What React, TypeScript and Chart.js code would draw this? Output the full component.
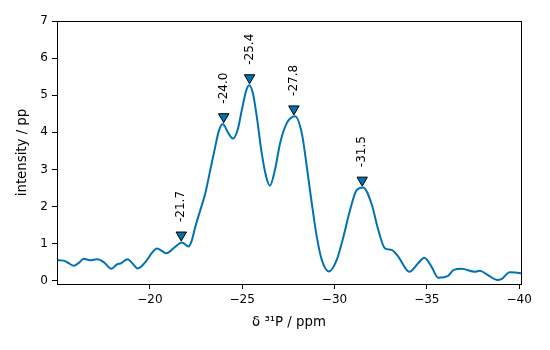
import React, { useEffect, useRef } from "react";
import { Chart, registerables } from "chart.js";

Chart.register(...registerables);

// Spectrum (δ 31P / ppm vs intensity / pp)
const ppm: number[] = [
  -14.97, -15.34, -15.6, -15.88, -16.15, -16.42, -16.75, -17.15, -17.5, -17.92,
  -18.22, -18.44, -18.8, -19.05, -19.34, -19.85, -20.1, -20.39, -20.65, -20.89,
  -21.32, -21.74, -22.1, -22.25, -22.46, -22.73, -23.0, -23.27, -23.54, -23.72,
  -23.94, -24.26, -24.5, -24.75, -24.98, -25.22, -25.38, -25.58, -25.79, -26.06,
  -26.3, -26.5, -26.78, -27.05, -27.41, -27.86, -28.23, -28.5, -28.77, -29.04,
  -29.31, -29.7, -30.12, -30.48, -30.84, -31.2, -31.55, -32.0, -32.37, -32.73,
  -33.09, -33.45, -34.05, -34.53, -34.86, -35.25, -35.61, -36.15, -36.46, -36.88,
  -37.6, -37.86, -38.31, -38.8, -39.04, -39.49, -39.8, -40.1,
];
const intensity: number[] = [
  0.55, 0.54, 0.47, 0.4, 0.48, 0.59, 0.55, 0.58, 0.5, 0.32,
  0.44, 0.47, 0.58, 0.47, 0.33, 0.56, 0.74, 0.87, 0.8, 0.74,
  0.89, 1.03, 0.92, 1.05, 1.45, 1.9, 2.35, 2.98, 3.61, 4.01,
  4.22, 3.97, 3.83, 4.06, 4.6, 5.13, 5.27, 5.05, 4.42, 3.43,
  2.8, 2.56, 3.0, 3.7, 4.24, 4.43, 3.97, 3.07, 2.08, 1.18,
  0.56, 0.25, 0.56, 1.18, 1.9, 2.44, 2.51, 2.08, 1.37, 0.87,
  0.83, 0.65, 0.24, 0.47, 0.62, 0.38, 0.08, 0.13, 0.29, 0.32,
  0.24, 0.27, 0.15, 0.02, 0.04, 0.23, 0.22, 0.2,
];

// Picked peaks
const peakPpm: number[] = [-21.7, -24.0, -25.4, -27.8, -31.5];
const peakIntensity: number[] = [1.03, 4.22, 5.27, 4.43, 2.51];
const markerOffset = 0.2;

const xTicks: number[] = [-20, -25, -30, -35, -40];
const yTicks: number[] = [0, 1, 2, 3, 4, 5, 6, 7];

const X_MIN = -40.1;
const X_MAX = -14.97;
const Y_MIN = -0.09;
const Y_MAX = 7;

const LINE_COLOR = "#0072B2";
const FONT = "'DejaVu Sans', sans-serif";

const fmt = (v: number) => String(v).replace("-", "\u2212");

export default function App() {
  const ref = useRef<HTMLCanvasElement | null>(null);

  useEffect(() => {
    if (!ref.current) return;

    const framePlugin = {
      id: "frame",
      afterDatasetsDraw(chart: any) {
        const { ctx, chartArea } = chart;
        ctx.save();
        ctx.strokeStyle = "#000";
        ctx.lineWidth = 1;
        ctx.strokeRect(
          Math.round(chartArea.left) + 0.5,
          Math.round(chartArea.top) + 0.5,
          Math.round(chartArea.right - chartArea.left),
          Math.round(chartArea.bottom - chartArea.top)
        );
        ctx.restore();
      },
    };

    const peakLabelPlugin = {
      id: "peakLabels",
      afterDatasetsDraw(chart: any) {
        const { ctx } = chart;
        const xs = chart.scales.x;
        const ys = chart.scales.y;
        ctx.save();
        ctx.font = `12px ${FONT}`;
        ctx.fillStyle = "#000";
        ctx.textAlign = "left";
        ctx.textBaseline = "middle";
        peakPpm.forEach((p, i) => {
          const x = xs.getPixelForValue(p);
          const y = ys.getPixelForValue(peakIntensity[i] + markerOffset) - 13;
          ctx.save();
          ctx.translate(x, y);
          ctx.rotate(-Math.PI / 2);
          ctx.fillText(p.toFixed(1), 0, 0);
          ctx.restore();
        });
        ctx.restore();
      },
    };

    const chart = new Chart(ref.current, {
      type: "line",
      data: {
        datasets: [
          {
            data: ppm.map((x, i) => ({ x, y: intensity[i] })),
            borderColor: LINE_COLOR,
            borderWidth: 2,
            pointRadius: 0,
            fill: false,
            cubicInterpolationMode: "monotone",
            order: 2,
          },
          {
            type: "scatter",
            data: peakPpm.map((x, i) => ({ x, y: peakIntensity[i] + markerOffset })),
            pointStyle: "triangle",
            rotation: 180,
            radius: 6,
            backgroundColor: LINE_COLOR,
            borderColor: "#000",
            borderWidth: 1,
            showLine: false,
            order: 1,
          } as any,
        ],
      },
      options: {
        responsive: false,
        animation: false,
        devicePixelRatio: 1,
        layout: { padding: { left: 0, top: 21, right: 29, bottom: 0 } },
        plugins: {
          legend: { display: false },
          tooltip: { enabled: false },
        },
        scales: {
          x: {
            type: "linear",
            reverse: true,
            min: X_MIN,
            max: X_MAX,
            afterBuildTicks: (scale: any) => {
              scale.ticks = xTicks.map((v) => ({ value: v }));
            },
            afterFit: (scale: any) => {
              scale.height = 66;
            },
            grid: {
              drawOnChartArea: false,
              drawTicks: true,
              tickLength: 5,
              tickColor: "#000",
            },
            border: { display: true, color: "#000", width: 1 },
            ticks: {
              color: "#000",
              padding: 4,
              maxRotation: 0,
              font: { family: FONT, size: 12 },
              callback: (v: any) => fmt(Number(v)),
            },
            title: {
              display: true,
              text: "δ \u00B3\u00B9P / ppm",
              color: "#000",
              font: { family: FONT, size: 13.3 },
              padding: { top: 0, bottom: 19 },
            },
          },
          y: {
            type: "linear",
            min: Y_MIN,
            max: Y_MAX,
            afterBuildTicks: (scale: any) => {
              scale.ticks = yTicks.map((v) => ({ value: v }));
            },
            afterFit: (scale: any) => {
              scale.width = 57;
            },
            grid: {
              drawOnChartArea: false,
              drawTicks: true,
              tickLength: 5,
              tickColor: "#000",
            },
            border: { display: true, color: "#000", width: 1 },
            ticks: {
              color: "#000",
              padding: 4,
              font: { family: FONT, size: 12 },
              callback: (v: any) => fmt(Number(v)),
            },
            title: {
              display: true,
              text: "intensity / pp",
              color: "#000",
              font: { family: FONT, size: 13.3 },
              padding: { top: 15, bottom: 0 },
            },
          },
        },
      },
      plugins: [framePlugin, peakLabelPlugin],
    } as any);

    return () => chart.destroy();
  }, []);

  return (
    <div style={{ position: "absolute", left: 0, top: 0, width: 550, height: 350, background: "#fff" }}>
      <canvas ref={ref} width={550} height={350} style={{ display: "block" }} />
    </div>
  );
}
